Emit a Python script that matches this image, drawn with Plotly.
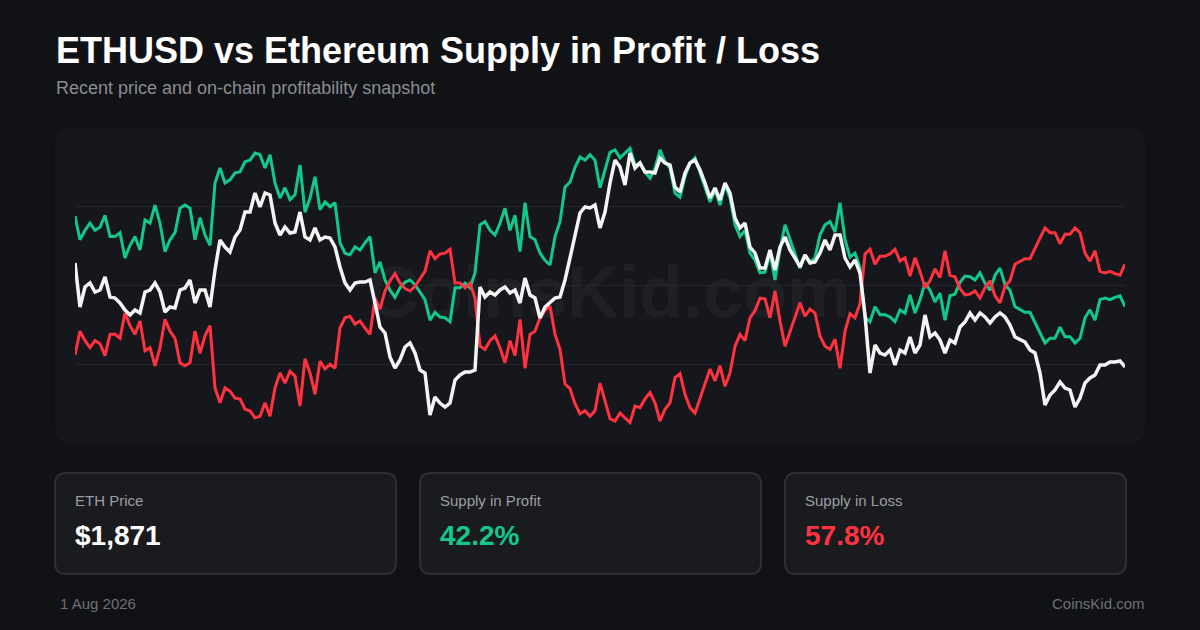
import pandas as pd
import plotly.graph_objects as go

# ---- data (daily-ish samples, oldest -> newest) ----
eth_price = [
    2287, 2111, 2191, 2207, 2171, 2179, 2231, 2151, 2147, 2127,
    2099, 2079, 2099, 2087, 2171, 2179, 2207, 2171, 2091, 2111,
    2107, 2179, 2187, 2219, 2127, 2179, 2179, 2111, 2259, 2379,
    2351, 2331, 2391, 2419, 2491, 2491, 2567, 2511, 2567, 2559,
    2447, 2399, 2431, 2407, 2411, 2491, 2391, 2379, 2427, 2379,
    2391, 2387, 2351, 2271, 2207, 2179, 2207, 2211, 2211, 2219,
    2127, 2031, 2007, 1911, 1867, 1899, 1951, 1967, 1927, 1859,
    1847, 1679, 1751, 1727, 1711, 1727, 1819, 1839, 1851, 1851,
    1859, 2191, 2151, 2171, 2159, 2179, 2191, 2167, 2179, 2127,
    2227, 2159, 2147, 2067, 2111, 2127, 2147, 2151, 2219, 2307,
    2391, 2487, 2511, 2507, 2519, 2427, 2491, 2607, 2699, 2671,
    2599, 2727, 2667, 2687, 2651, 2651, 2647, 2707, 2687, 2679,
    2591, 2571, 2647, 2687, 2699, 2659, 2607, 2547, 2587, 2539,
    2607, 2567, 2467, 2427, 2447, 2351, 2327, 2267, 2267, 2339,
    2259, 2351, 2391, 2339, 2307, 2271, 2319, 2287, 2291, 2327,
    2379, 2339, 2399, 2399, 2307, 2271, 2299, 2247, 2079, 1847,
    1959, 1927, 1919, 1939, 1879, 1939, 1927, 1991, 1927, 1959,
    2079, 1991, 2007, 1979, 1927, 1979, 1967, 2031, 2051, 2087,
    2059, 2087, 2071, 2047, 2071, 2087, 2071, 2039, 1991, 1979,
    1971, 1939, 1927, 1847, 1719, 1759, 1779, 1811, 1787, 1779,
    1711, 1747, 1807, 1827, 1839, 1879, 1879, 1891, 1891, 1895,
    1871,
]

supply_profit = [
    58.8, 55.8, 57.0, 57.9, 57.0, 57.4, 58.9, 56.2, 56.2, 56.7,
    53.5, 55.1, 56.2, 54.5, 58.3, 57.9, 60.2, 57.9, 54.3, 55.8,
    56.7, 59.8, 60.2, 59.8, 55.8, 58.6, 56.4, 55.1, 63.0, 64.9,
    63.0, 63.4, 64.3, 64.4, 65.7, 65.9, 66.8, 66.6, 64.9, 66.6,
    63.0, 61.1, 62.4, 60.9, 61.5, 65.3, 59.3, 61.1, 63.8, 59.6,
    60.6, 60.0, 60.5, 55.4, 54.1, 53.9, 54.9, 54.5, 55.4, 56.2,
    51.6, 53.0, 50.7, 49.4, 48.5, 49.7, 50.4, 50.7, 50.1, 49.2,
    48.2, 45.6, 46.6, 46.0, 45.9, 45.4, 49.7, 49.7, 50.3, 49.7,
    51.6, 57.7, 58.1, 57.0, 56.4, 57.9, 59.8, 57.0, 58.9, 54.3,
    60.5, 56.2, 55.8, 54.1, 53.2, 52.6, 56.2, 58.1, 62.5, 63.1,
    65.0, 66.3, 65.9, 66.6, 65.9, 62.4, 64.7, 66.9, 67.2, 66.2,
    66.8, 67.4, 65.3, 65.5, 64.4, 63.6, 64.9, 67.2, 65.7, 64.9,
    61.7, 61.2, 63.8, 65.5, 66.2, 64.3, 62.5, 60.6, 62.1, 60.2,
    62.8, 61.1, 57.7, 56.2, 57.0, 54.1, 53.2, 51.6, 51.7, 54.1,
    50.7, 54.5, 57.7, 55.8, 53.9, 52.2, 53.9, 53.0, 53.5, 56.4,
    57.7, 58.1, 56.8, 60.5, 55.8, 53.6, 54.1, 52.3, 46.0, 45.4,
    47.3, 46.3, 46.3, 46.0, 45.4, 46.9, 46.5, 48.8, 46.5, 48.2,
    50.3, 49.4, 47.9, 49.0, 45.6, 48.7, 48.9, 50.4, 51.2, 51.1,
    50.7, 51.6, 50.3, 49.4, 51.3, 52.2, 50.1, 49.4, 47.3, 46.9,
    46.6, 46.6, 45.4, 44.0, 42.7, 43.3, 43.3, 44.7, 43.5, 43.5,
    42.7, 43.3, 45.9, 46.9, 45.6, 48.2, 48.4, 48.2, 48.5, 48.7,
    47.3,
]

supply_loss = [
    41.2, 44.2, 43.0, 42.1, 43.0, 42.6, 41.1, 43.8, 43.8, 43.3,
    46.5, 44.9, 43.8, 45.5, 41.7, 42.1, 39.8, 42.1, 45.7, 44.2,
    43.3, 40.2, 39.8, 40.2, 44.2, 41.4, 43.6, 44.9, 37.0, 35.1,
    37.0, 36.6, 35.7, 35.6, 34.3, 34.1, 33.2, 33.4, 35.1, 33.4,
    37.0, 38.9, 37.6, 39.1, 38.5, 34.7, 40.7, 38.9, 36.2, 40.4,
    39.4, 40.0, 39.5, 44.6, 45.9, 46.1, 45.1, 45.5, 44.6, 43.8,
    48.4, 47.0, 49.3, 50.6, 51.5, 50.3, 49.6, 49.3, 49.9, 50.8,
    51.8, 54.4, 53.4, 54.0, 54.1, 54.6, 50.3, 50.3, 49.7, 50.3,
    48.4, 42.3, 41.9, 43.0, 43.6, 42.1, 40.2, 43.0, 41.1, 45.7,
    39.5, 43.8, 44.2, 45.9, 46.8, 47.4, 43.8, 41.9, 37.5, 36.9,
    35.0, 33.7, 34.1, 33.4, 34.1, 37.6, 35.3, 33.1, 32.8, 33.8,
    33.2, 32.6, 34.7, 34.5, 35.6, 36.4, 35.1, 32.8, 34.3, 35.1,
    38.3, 38.8, 36.2, 34.5, 33.8, 35.7, 37.5, 39.4, 37.9, 39.8,
    37.2, 38.9, 42.3, 43.8, 43.0, 45.9, 46.8, 48.4, 48.3, 45.9,
    49.3, 45.5, 42.3, 44.2, 46.1, 47.8, 46.1, 47.0, 46.5, 43.6,
    42.3, 41.9, 43.2, 39.5, 44.2, 46.4, 45.9, 47.7, 54.0, 54.6,
    52.7, 53.7, 53.7, 54.0, 54.6, 53.1, 53.5, 51.2, 53.5, 51.8,
    49.7, 50.6, 52.1, 51.0, 54.4, 51.3, 51.1, 49.6, 48.8, 48.9,
    49.3, 48.4, 49.7, 50.6, 48.7, 47.8, 49.9, 50.6, 52.7, 53.1,
    53.4, 53.4, 54.6, 56.0, 57.3, 56.7, 56.7, 55.3, 56.5, 56.5,
    57.3, 56.7, 54.1, 53.1, 54.4, 51.8, 51.6, 51.8, 51.5, 51.3,
    52.7,
]

card_labels = ["ETH Price", "Supply in Profit", "Supply in Loss"]
card_values = ["$1,871", "42.2%", "57.8%"]
as_of = "1 Aug 2026"
brand = "CoinsKid.com"

dates = pd.date_range(end="2026-08-01", periods=len(eth_price), freq="D")

# ---- styling ----
BG = "#111216"
PANEL = "#16171c"
CARD_BG = "#1a1b1f"
CARD_BORDER = "#2d2f34"
GRID = "#25262b"
WHITE = "#f4f4f4"
GREEN = "#12c98a"
RED = "#ff3340"
FONT = "Liberation Sans, Arial, sans-serif"

W, H = 1200, 630
PL, PR, PT, PB = 75, 1125, 130, 440  # plot area in pixels


def px(x):
    return (x - PL) / (PR - PL)


def py(y):
    return (PB - y) / (PB - PT)


def rounded_path(x0, y0, x1, y1, r):
    """Rounded rectangle, pixel coords in, paper-coord SVG path out."""
    pts = [
        ("M", [(x0 + r, y0)]), ("L", [(x1 - r, y0)]), ("Q", [(x1, y0), (x1, y0 + r)]),
        ("L", [(x1, y1 - r)]), ("Q", [(x1, y1), (x1 - r, y1)]),
        ("L", [(x0 + r, y1)]), ("Q", [(x0, y1), (x0, y1 - r)]),
        ("L", [(x0, y0 + r)]), ("Q", [(x0, y0), (x0 + r, y0)]),
    ]
    out = []
    for cmd, coords in pts:
        out.append(cmd + " ".join(f"{px(a):.5f},{py(b):.5f}" for a, b in coords))
    return " ".join(out) + " Z"


fig = go.Figure()
fig.add_trace(go.Scatter(x=dates, y=eth_price, yaxis="y2", mode="lines",
                         line=dict(color=WHITE, width=3.5), name="ETHUSD"))
fig.add_trace(go.Scatter(x=dates, y=supply_profit, mode="lines",
                         line=dict(color=GREEN, width=3), name="Supply in Profit"))
fig.add_trace(go.Scatter(x=dates, y=supply_loss, mode="lines",
                         line=dict(color=RED, width=3), name="Supply in Loss"))

shapes = [
    dict(type="path", xref="paper", yref="paper", layer="below",
         path=rounded_path(55, 128, 1145, 443, 16),
         fillcolor=PANEL, line=dict(width=0)),
    dict(type="rect", xref="paper", yref="paper", layer="below",
         x0=px(300), x1=px(918), y0=py(245), y1=py(325),
         fillcolor="rgba(0,0,0,0)", line=dict(width=0),
         label=dict(text=brand, textposition="middle center",
                    font=dict(family=FONT, size=72, color="#1f2025", weight="bold"))),
]

annotations = [
    dict(text="<b>ETHUSD vs Ethereum Supply in Profit / Loss</b>", x=px(54), y=py(50),
         xanchor="left", yanchor="middle", font=dict(family=FONT, size=36, color="#ffffff")),
    dict(text="Recent price and on-chain profitability snapshot", x=px(54), y=py(88),
         xanchor="left", yanchor="middle", font=dict(family=FONT, size=18, color="#8a8c92")),
    dict(text=as_of, x=px(58), y=py(603), xanchor="left", yanchor="middle",
         font=dict(family=FONT, size=15, color="#6e7076")),
    dict(text=brand, x=px(1147), y=py(603), xanchor="right", yanchor="middle",
         font=dict(family=FONT, size=15, color="#6e7076")),
]

value_colors = ["#ffffff", GREEN, RED]
card_w, card_gap = 341, 24
for i, (label, value) in enumerate(zip(card_labels, card_values)):
    x0 = 55 + i * (card_w + card_gap)
    shapes.append(dict(type="path", xref="paper", yref="paper", layer="below",
                       path=rounded_path(x0, 473, x0 + card_w, 574, 11),
                       fillcolor=CARD_BG, line=dict(color=CARD_BORDER, width=2)))
    annotations.append(dict(text=label, x=px(x0 + 18), y=py(500), xanchor="left",
                            yanchor="middle",
                            font=dict(family=FONT, size=15, color="#9c9ea4")))
    annotations.append(dict(text=f"<b>{value}</b>", x=px(x0 + 18), y=py(535),
                            xanchor="left", yanchor="middle",
                            font=dict(family=FONT, size=28, color=value_colors[i])))

for a in annotations:
    a.update(xref="paper", yref="paper", showarrow=False)

fig.update_layout(
    width=W, height=H,
    margin=dict(l=PL, r=W - PR, t=PT, b=H - PB),
    paper_bgcolor=BG, plot_bgcolor="rgba(0,0,0,0)",
    showlegend=False,
    xaxis=dict(range=[dates[0], dates[-1]], showgrid=False, zeroline=False,
               showticklabels=False, showline=False),
    yaxis=dict(range=[30.39, 69.73], tickvals=[40, 50, 60], showgrid=True,
               gridcolor=GRID, gridwidth=1, zeroline=False, showticklabels=False),
    yaxis2=dict(range=[1579, 2819], overlaying="y", showgrid=False, zeroline=False,
                showticklabels=False),
    shapes=shapes,
    annotations=annotations,
)

# page body has an 8px default margin; drop it so the figure sits at 0,0
fig.write_html("out.html",
               config={"displayModeBar": False},
               post_script="document.body.style.margin='0';"
                           "document.body.style.background='#111216';")
